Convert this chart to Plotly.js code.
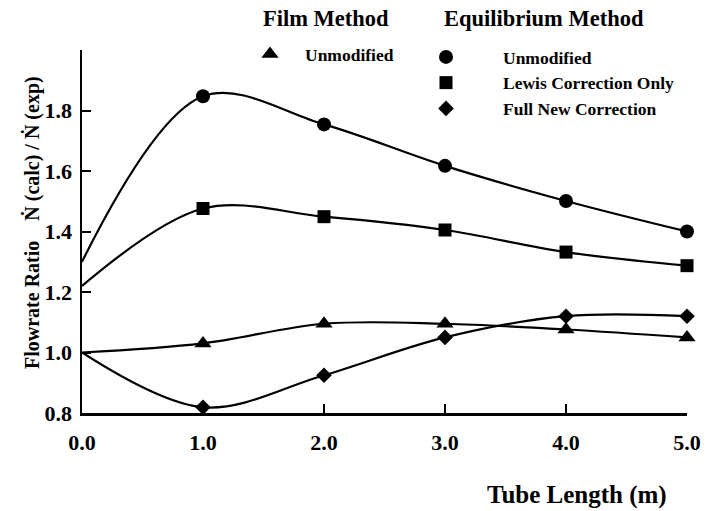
<!DOCTYPE html>
<html>
<head>
<meta charset="utf-8">
<script src="https://cdn.plot.ly/plotly-3.0.1.min.js"></script>
<style>html,body{margin:0;padding:0;background:#fff;}#chart{width:706px;height:511px;}</style>
</head>
<body>
<div id="chart"></div>
<script>
// Tube length (m)
const tubeLength = [0, 1, 2, 3, 4, 5];
// Flowrate ratio N(calc)/N(exp)
const filmUnmodified = [1.00, 1.03, 1.095, 1.095, 1.076, 1.05];
const eqUnmodified = [1.30, 1.847, 1.754, 1.617, 1.501, 1.40];
const eqLewisOnly = [1.22, 1.476, 1.449, 1.405, 1.332, 1.287];
const eqFullNew = [1.00, 0.819, 0.925, 1.05, 1.12, 1.12];

const xTickVals = [0, 1, 2, 3, 4, 5];
const xTickText = ['0.0', '1.0', '2.0', '3.0', '4.0', '5.0'];
const yTickVals = [0.8, 1.0, 1.2, 1.4, 1.6, 1.8, 2.0];
const yTickText = ['0.8', '1.0', '1.2', '1.4', '1.6', '1.8', ''];

const FONT = 'Liberation Serif, Times New Roman, serif';

function lineTrace(y) {
  return {x: tubeLength, y: y, mode: 'lines', showlegend: false, hoverinfo: 'skip',
    line: {color: '#000', width: 2.2, shape: 'spline', smoothing: 1.0}};
}
function markTrace(y, name, symbol, size, legend) {
  return {x: tubeLength.slice(1), y: y.slice(1), mode: 'markers', name: name, legend: legend,
    legendgroup: name, cliponaxis: false,
    marker: {color: '#000', symbol: symbol, size: size}};
}

const data = [
  lineTrace(filmUnmodified), lineTrace(eqUnmodified), lineTrace(eqLewisOnly), lineTrace(eqFullNew),
  markTrace(filmUnmodified, 'Unmodified', 'triangle-up', 15, 'legend'),
  markTrace(eqUnmodified, 'Unmodified', 'circle', 14, 'legend2'),
  markTrace(eqLewisOnly, 'Lewis Correction Only', 'square', 13, 'legend2'),
  markTrace(eqFullNew, 'Full New Correction', 'diamond', 12, 'legend2')
];

const px = v => (v - 82) / 605;
const py = v => (413 - v) / 363;

const layout = {
  width: 706, height: 511,
  margin: {l: 82, r: 19, t: 50, b: 98},
  paper_bgcolor: '#fff', plot_bgcolor: '#fff',
  font: {family: FONT, color: '#000'},
  xaxis: {range: [0, 5], tickvals: xTickVals, ticktext: xTickText, showgrid: false, zeroline: false,
    showline: true, linecolor: '#000', linewidth: 2.5, ticks: 'inside', ticklen: 9, tickwidth: 2,
    tickcolor: '#000', ticklabelstandoff: 8, tickfont: {family: FONT, size: 22, weight: 'bold'}},
  yaxis: {range: [0.8, 2.0], tickvals: yTickVals, ticktext: yTickText, showgrid: false, zeroline: false,
    showline: true, linecolor: '#000', linewidth: 2.5, ticks: 'inside', ticklen: 9, tickwidth: 2,
    tickcolor: '#000', ticklabelstandoff: 3, tickfont: {family: FONT, size: 22, weight: 'bold'}},
  legend: {x: px(235), y: py(36), xanchor: 'left', yanchor: 'top', bgcolor: 'rgba(0,0,0,0)',
    itemwidth: 60, borderwidth: 0,
    font: {family: FONT, size: 17.5, weight: 'bold'}},
  legend2: {x: px(389), y: py(39), xanchor: 'left', yanchor: 'top', bgcolor: 'rgba(0,0,0,0)',
    itemwidth: 104, borderwidth: 0, tracegroupgap: 0,
    font: {family: FONT, size: 17.5, weight: 'bold'}},
  annotations: [
    {text: 'Film Method', xref: 'paper', yref: 'paper', x: px(325.5), y: py(18),
     xanchor: 'center', yanchor: 'middle', showarrow: false, font: {family: FONT, size: 22.5, weight: 'bold'}},
    {text: 'Equilibrium Method', xref: 'paper', yref: 'paper', x: px(543.5), y: py(18),
     xanchor: 'center', yanchor: 'middle', showarrow: false, font: {family: FONT, size: 22.5, weight: 'bold'}},
    {text: 'Flowrate Ratio\u2003\u1E44 (calc) / \u1E44 (exp)', xref: 'paper', yref: 'paper', x: px(32), y: py(223),
     xanchor: 'center', yanchor: 'middle', textangle: -90, showarrow: false,
     font: {family: FONT, size: 20, weight: 'bold'}},
    {text: 'Tube Length (m)', xref: 'paper', yref: 'paper', x: px(577), y: py(495),
     xanchor: 'center', yanchor: 'middle', showarrow: false, font: {family: FONT, size: 25, weight: 'bold'}}
  ]
};

Plotly.newPlot('chart', data, layout, {displayModeBar: false, staticPlot: true});
</script>
</body>
</html>
